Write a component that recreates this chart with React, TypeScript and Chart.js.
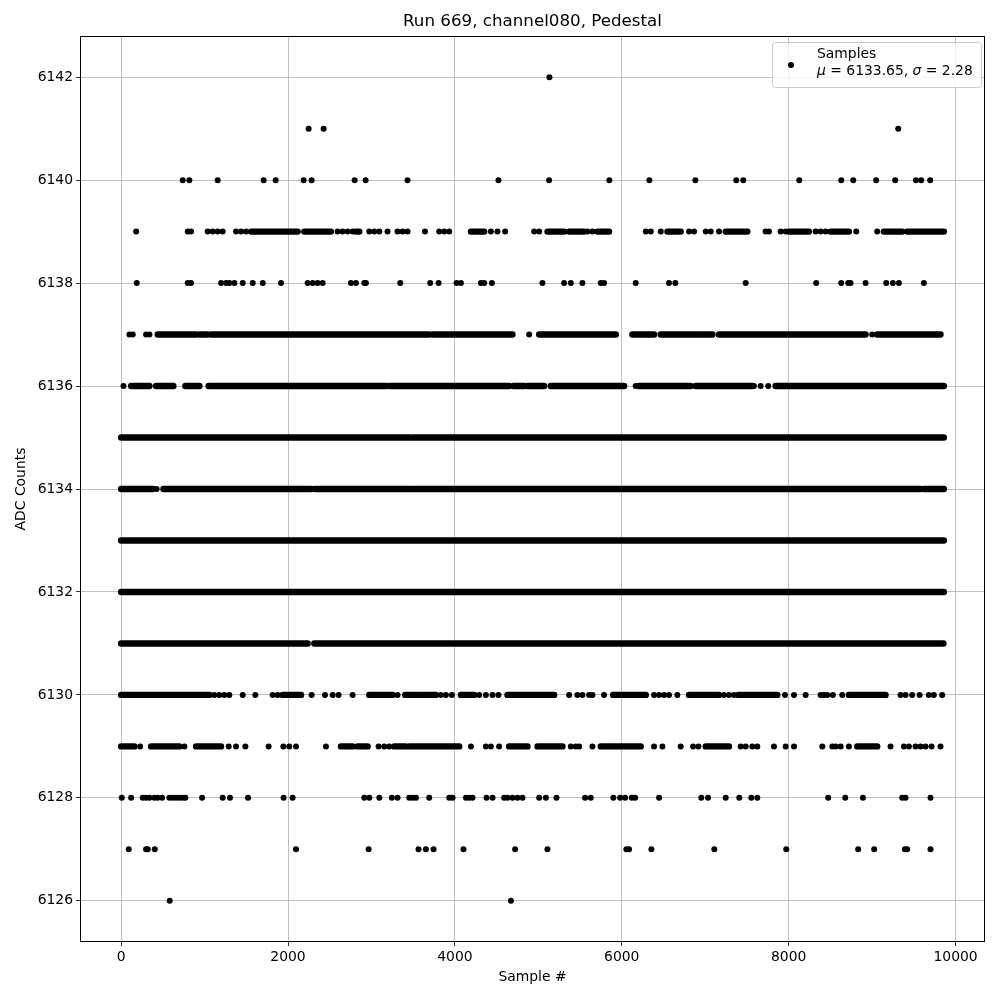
import React, { useEffect, useRef } from "react";
import { Chart, registerables } from "chart.js";

Chart.register(...registerables);

type Entry = number | [number, number];

const TITLE = "Run 669, channel080, Pedestal";
const X_LABEL = "Sample #";
const Y_LABEL = "ADC Counts";
const LEGEND_LABEL = "Samples";
const MEAN_TEXT = "6133.65";
const SIGMA_TEXT = "2.28";

const X_TICKS = [0, 2000, 4000, 6000, 8000, 10000];
const Y_TICKS = [6126, 6128, 6130, 6132, 6134, 6136, 6138, 6140, 6142];
const X_MIN = -493;
const X_MAX = 10353;
const Y_MIN = 6125.2;
const Y_MAX = 6142.8;

// Sample indices where each ADC level occurs: single samples or [first, last] runs of dense occupancy
const ROW_6142: Entry[] = [5133];
const ROW_6141: Entry[] = [2247, 2427, 9313];
const ROW_6140: Entry[] = [738, 818, 1157, 1708, 1852, 2187, 2283, 2798, 2930, 3432, 4522, 5129, 5851, 6331, 6882, 7372, 7456, 8127, 8630, 8774, 9049, 9277, 9525, 9588, 9696];
const ROW_6139: Entry[] = [180, 798, 838, 1037, 1097, 1157, 1217, 1377, 1437, 1497, [1557, 2115], [2195, 2514], 2594, 2654, 2714, 2774, [2814, 2854], 2974, 3034, 3094, 3193, 3313, 3373, 3432, 3641, 3812, 3872, 3932, [4192, 4351], 4431, 4510, 4602, 4950, 5010, [5110, 5309], [5369, 5548], 5588, 5648, [5708, 5848], 6288, 6347, 6467, [6547, 6707], 6806, 6866, 7006, 7066, 7165, [7245, 7504], 7724, 7764, 7904, 7964, [8004, 8243], 8323, 8383, 8443, [8503, 8722], 8810, 9061, [9141, 9361], [9421, 9860]];
const ROW_6138: Entry[] = [187, 798, 838, 1198, 1258, 1297, 1357, 1457, 1577, 1697, 1916, 2235, 2295, 2355, 2415, 2754, 2814, 2914, 2934, 3345, 3704, 3804, 4020, 4072, 4311, 4351, 4443, 5049, 5309, 5389, 5528, 5748, 5788, 6167, 6566, 6642, 7485, 8330, 8630, 8714, 8742, 8922, 9169, 9249, 9321, 9620];
const ROW_6137: Entry[] = [99, 139, 299, 339, [439, 898], [938, 1037], [1078, 3692], [3732, 4690], 4890, [5010, 5928], [6127, 6387], [6467, 6946], [6966, 7086], [7165, 8922], 9001, [9061, 9820]];
const ROW_6136: Entry[] = [28, [120, 339], [419, 626], [770, 938], [1049, 3173], [3213, 4650], [4700, 4830], [4870, 5069], [5149, 6028], 6167, [6207, 6826], [6886, 7564], 7584, 7664, 7755, [7844, 9860]];
const ROW_6135: Entry[] = [[0, 3460], [3490, 9860]];
const ROW_6134: Entry[] = [[0, 378], 426, [507, 2275], [2315, 3492], [3512, 9581], [9620, 9860]];
const ROW_6133: Entry[] = [[0, 9860]];
const ROW_6132: Entry[] = [[0, 9860]];
const ROW_6131: Entry[] = [[0, 2235], [2315, 9855]];
const ROW_6130: Entry[] = [[0, 1057], 1117, 1177, 1237, 1297, 1457, 1608, 1816, 1876, [1935, 2156], 2283, 2443, 2535, 2606, 2774, [2974, 3253], 3313, [3405, 3593], [3612, 3772], 3832, 3892, 3964, [4072, 4231], 4291, 4371, 4451, 4522, [4630, 5189], 5369, 5468, 5528, 5608, 5648, 5788, [5896, 6288], 6387, 6447, 6507, 6566, 6666, [6806, 7165], 7225, 7285, 7345, [7397, 7864], 7956, 8064, 8203, 8383, 8423, 8463, 8530, 8642, [8722, 9161], 9341, 9401, 9480, 9569, 9680, 9740, 9840];
const ROW_6129: Entry[] = [[0, 159], 228, [359, 698], 758, [898, 1197], 1289, 1377, 1489, 1768, 1944, 2015, 2096, 2455, [2635, 2774], [2834, 2954], 3085, 3153, 3213, [3273, 3413], [3453, 4052], 4192, 4371, 4431, 4530, [4650, 4870], [4990, 5289], 5389, 5449, 5489, 5648, [5748, 6227], 6387, 6487, 6706, 6854, 6918, [7006, 7285], 7425, 7485, 7564, 7624, 7824, 7964, 8064, 8403, 8523, 8563, 8623, 8722, [8822, 9061], 9221, 9381, 9441, 9521, 9581, 9641, 9713, 9820];
const ROW_6128: Entry[] = [7, 120, 259, 299, 339, 399, 439, 491, 578, 618, 658, 698, 738, 770, 970, 1217, 1305, 1521, 1947, 2055, 2914, 2974, 3094, 3245, 3313, 3453, 3493, 3533, 3692, 3932, 3972, 4132, 4171, 4211, 4379, 4451, 4590, 4630, 4690, 4750, 4810, 5010, 5090, 5217, 5560, 5628, 5899, 5980, 6040, 6120, 6160, 6447, 6953, 7034, 7245, 7408, 7552, 7624, 8474, 8678, 8890, 9361, 9401, 9700];
const ROW_6127: Entry[] = [91, 299, 319, 403, 2096, 2966, 3564, 3652, 3744, 4103, 4722, 5109, 6055, 6087, 6355, 7109, 7971, 8833, 9025, 9393, 9420, 9700];
const ROW_6126: Entry[] = [582, 4671];

const LEVELS: [number, Entry[]][] = [
  [6126, ROW_6126], [6127, ROW_6127], [6128, ROW_6128], [6129, ROW_6129],
  [6130, ROW_6130], [6131, ROW_6131], [6132, ROW_6132], [6133, ROW_6133],
  [6134, ROW_6134], [6135, ROW_6135], [6136, ROW_6136], [6137, ROW_6137],
  [6138, ROW_6138], [6139, ROW_6139], [6140, ROW_6140], [6141, ROW_6141],
  [6142, ROW_6142],
];

const FONT = "'DejaVu Sans', sans-serif";
const DOT_R = 3;
const RUN_W = 6.4;

export default function App() {
  const ref = useRef<HTMLCanvasElement | null>(null);

  useEffect(() => {
    const canvas = ref.current;
    if (!canvas) return;

    const singles: { x: number; y: number }[] = [];
    const runs: { x: number; y: number | null }[] = [];
    for (const [level, entries] of LEVELS) {
      for (const e of entries) {
        if (Array.isArray(e)) {
          runs.push({ x: e[0], y: level });
          runs.push({ x: e[1], y: level });
          runs.push({ x: e[1], y: null });
        } else {
          singles.push({ x: e, y: level });
        }
      }
    }

    const textPlugin = {
      id: "mplText",
      afterDraw(chart: any) {
        const ctx = chart.ctx as CanvasRenderingContext2D;
        const area = chart.chartArea;
        const cx = (area.left + area.right) / 2;
        ctx.save();
        // full axes frame
        ctx.strokeStyle = "#000";
        ctx.lineWidth = 1;
        ctx.strokeRect(Math.round(area.left) + 0.5, Math.round(area.top) + 0.5,
          Math.round(area.right - area.left) - 1, Math.round(area.bottom - area.top) - 1);

        ctx.fillStyle = "#000";
        ctx.textAlign = "center";
        ctx.textBaseline = "middle";
        ctx.font = `16.7px ${FONT}`;
        ctx.fillText(TITLE, cx, 22);
        ctx.font = `13.9px ${FONT}`;
        ctx.fillText(X_LABEL, cx, 977);
        ctx.save();
        ctx.translate(21, (area.top + area.bottom) / 2);
        ctx.rotate(-Math.PI / 2);
        ctx.fillText(Y_LABEL, 0, 0);
        ctx.restore();

        // legend
        const bx = 772.5, by = 42.5, bw = 209, bh = 45, r = 3;
        ctx.beginPath();
        ctx.moveTo(bx + r, by);
        ctx.lineTo(bx + bw - r, by);
        ctx.arcTo(bx + bw, by, bx + bw, by + r, r);
        ctx.lineTo(bx + bw, by + bh - r);
        ctx.arcTo(bx + bw, by + bh, bx + bw - r, by + bh, r);
        ctx.lineTo(bx + r, by + bh);
        ctx.arcTo(bx, by + bh, bx, by + bh - r, r);
        ctx.lineTo(bx, by + r);
        ctx.arcTo(bx, by, bx + r, by, r);
        ctx.closePath();
        ctx.fillStyle = "rgba(255,255,255,0.8)";
        ctx.fill();
        ctx.strokeStyle = "#cccccc";
        ctx.lineWidth = 1;
        ctx.stroke();

        ctx.fillStyle = "#000";
        ctx.beginPath();
        ctx.arc(791, 65, DOT_R, 0, Math.PI * 2);
        ctx.fill();

        ctx.textAlign = "left";
        ctx.font = `13.9px ${FONT}`;
        ctx.fillText(LEGEND_LABEL, 817, 54);
        let x = 817;
        const y2 = 71;
        const parts: [string, boolean][] = [
          ["μ", true], [" = " + MEAN_TEXT + ", ", false], ["σ", true], [" = " + SIGMA_TEXT, false],
        ];
        for (const [t, italic] of parts) {
          ctx.font = `${italic ? "italic " : ""}13.9px ${FONT}`;
          ctx.fillText(t, x, y2);
          x += ctx.measureText(t).width;
        }
        ctx.restore();
      },
    };

    const chart = new Chart(canvas, {
      type: "scatter",
      data: {
        datasets: [
          {
            label: LEGEND_LABEL,
            data: singles,
            showLine: false,
            pointRadius: DOT_R,
            pointHoverRadius: DOT_R,
            pointBackgroundColor: "#000",
            pointBorderWidth: 0,
            borderColor: "#000",
          },
          {
            label: "runs",
            data: runs as any,
            showLine: true,
            spanGaps: false,
            pointRadius: 0,
            pointHoverRadius: 0,
            borderColor: "#000",
            borderWidth: RUN_W,
            borderCapStyle: "round",
            borderJoinStyle: "round",
            tension: 0,
          } as any,
        ],
      },
      options: {
        animation: false,
        responsive: false,
        events: [],
        layout: { padding: { top: 36, right: 15, left: 0, bottom: 0 } },
        plugins: {
          legend: { display: false },
          title: { display: false },
          tooltip: { enabled: false },
        },
        scales: {
          x: {
            type: "linear",
            min: X_MIN,
            max: X_MAX,
            afterFit: (s: any) => { s.height = 58; },
            afterBuildTicks: (s: any) => { s.ticks = X_TICKS.map((v) => ({ value: v })); },
            grid: { color: "#b0b0b0", lineWidth: 0.8, tickColor: "#000", tickLength: 4 },
            border: { display: false },
            ticks: {
              color: "#000",
              font: { family: FONT, size: 13.9 },
              padding: 3,
              maxRotation: 0,
              callback: (v: any) => String(v),
            },
          },
          y: {
            type: "linear",
            min: Y_MIN,
            max: Y_MAX,
            afterFit: (s: any) => { s.width = 80; },
            afterBuildTicks: (s: any) => { s.ticks = Y_TICKS.map((v) => ({ value: v })); },
            grid: { color: "#b0b0b0", lineWidth: 0.8, tickColor: "#000", tickLength: 4 },
            border: { display: false },
            ticks: {
              color: "#000",
              font: { family: FONT, size: 13.9 },
              padding: 3,
              callback: (v: any) => String(v),
            },
          },
        },
      },
      plugins: [textPlugin],
    });

    return () => chart.destroy();
  }, []);

  return (
    <div style={{ position: "absolute", left: 0, top: 0, width: 1000, height: 1000, background: "#fff" }}>
      <canvas ref={ref} width={1000} height={1000} style={{ display: "block" }} />
    </div>
  );
}
